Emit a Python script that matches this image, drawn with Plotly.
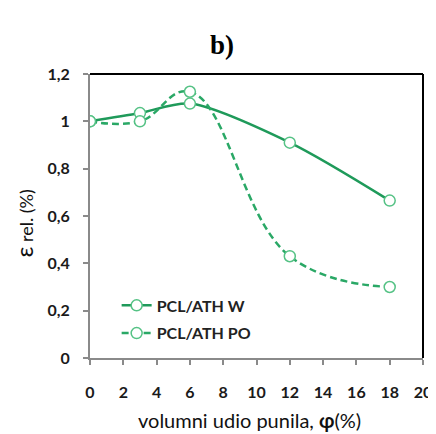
import plotly.graph_objects as go

x_vals = [0, 3, 6, 12, 18]
w_vals = [1.0, 1.035, 1.075, 0.91, 0.665]
po_vals = [1.0, 1.0, 1.125, 0.43, 0.30]
series_names = ["PCL/ATH W", "PCL/ATH PO"]
x_ticks = [0, 2, 4, 6, 8, 10, 12, 14, 16, 18, 20]
x_tick_labels = ["0", "2", "4", "6", "8", "10", "12", "14", "16", "18", "20"]
y_ticks = [0, 0.2, 0.4, 0.6, 0.8, 1.0, 1.2]
y_tick_labels = ["0", "0,2", "0,4", "0,6", "0,8", "1", "1,2"]

fig = go.Figure()
fig.add_trace(go.Scatter(
    x=x_vals, y=w_vals, name="<b>" + series_names[0] + "</b>", mode="lines+markers",
    legendgroup="w",
    line=dict(color="#1f9a5a", width=2.5, shape="spline", smoothing=0.8),
    marker=dict(symbol="circle", size=11, color="white",
                line=dict(color="#55c285", width=1.5)),
))
fig.add_trace(go.Scatter(
    x=x_vals, y=po_vals, name="<b>" + series_names[1] + "</b>", mode="lines+markers",
    legendgroup="po",
    line=dict(color="#2aa866", width=2.5, dash="7px,4px", shape="spline", smoothing=1.2),
    marker=dict(symbol="circle", size=11, color="white",
                line=dict(color="#55c285", width=1.5)),
))

# page body has an 8px default margin, so the figure is 8px smaller and offset
fig.update_layout(
    width=428, height=426,
    margin=dict(l=82, r=13, t=66, b=76),
    paper_bgcolor="white", plot_bgcolor="white",
    title=dict(text="<b>b)</b>", x=0.5, xanchor="center", y=0.915, yanchor="middle",
               font=dict(family="Liberation Serif", size=27, color="black")),
    font=dict(family="Lato", color="#1a1a1a"),
    legend=dict(x=0.08, y=0.245, xanchor="left", yanchor="top",
                bgcolor="rgba(0,0,0,0)", font=dict(size=16, family="Lato", color="#222"),
                tracegroupgap=4),
    showlegend=True,
)
fig.update_xaxes(
    range=[0, 20], tickvals=x_ticks, ticktext=["<b>" + t + "</b>" for t in x_tick_labels],
    showgrid=False, zeroline=False, automargin=False,
    showline=True, linecolor="#8a8a8a", linewidth=2,
    ticks="outside", tickcolor="#8a8a8a", ticklen=5, tickwidth=2, ticklabelstandoff=14,
    tickfont=dict(size=16, family="Lato", color="#1a1a1a"),
)
fig.update_yaxes(
    range=[0, 1.2], tickvals=y_ticks, ticktext=["<b>" + t + "</b>" for t in y_tick_labels],
    showgrid=False, zeroline=False, automargin=False,
    showline=True, linecolor="#8a8a8a", linewidth=2,
    ticks="outside", tickcolor="#8a8a8a", ticklen=5, tickwidth=2, ticklabelstandoff=10,
    tickfont=dict(size=16, family="Lato", color="#1a1a1a"),
)
fig.add_annotation(text="volumni udio punila, <b>φ</b>(%)", xref="paper", yref="paper",
                   x=0.48, y=-0.218, xanchor="center", yanchor="middle", showarrow=False,
                   font=dict(size=20, family="Lato", color="#111"))
fig.add_annotation(text="<span style='font-size:24px'>ε</span> rel. (%)", xref="paper", yref="paper",
                   x=-0.2, y=0.475, xanchor="center", yanchor="middle", showarrow=False,
                   textangle=-90, font=dict(size=18, family="Lato", color="#111"))
fig.add_shape(type="line", xref="paper", yref="paper", x0=0, x1=1, y0=1, y1=1,
              line=dict(color="black", width=2))
fig.add_shape(type="line", xref="paper", yref="paper", x0=1, x1=1, y0=0, y1=1,
              line=dict(color="black", width=2))

fig.write_html("out.html")
